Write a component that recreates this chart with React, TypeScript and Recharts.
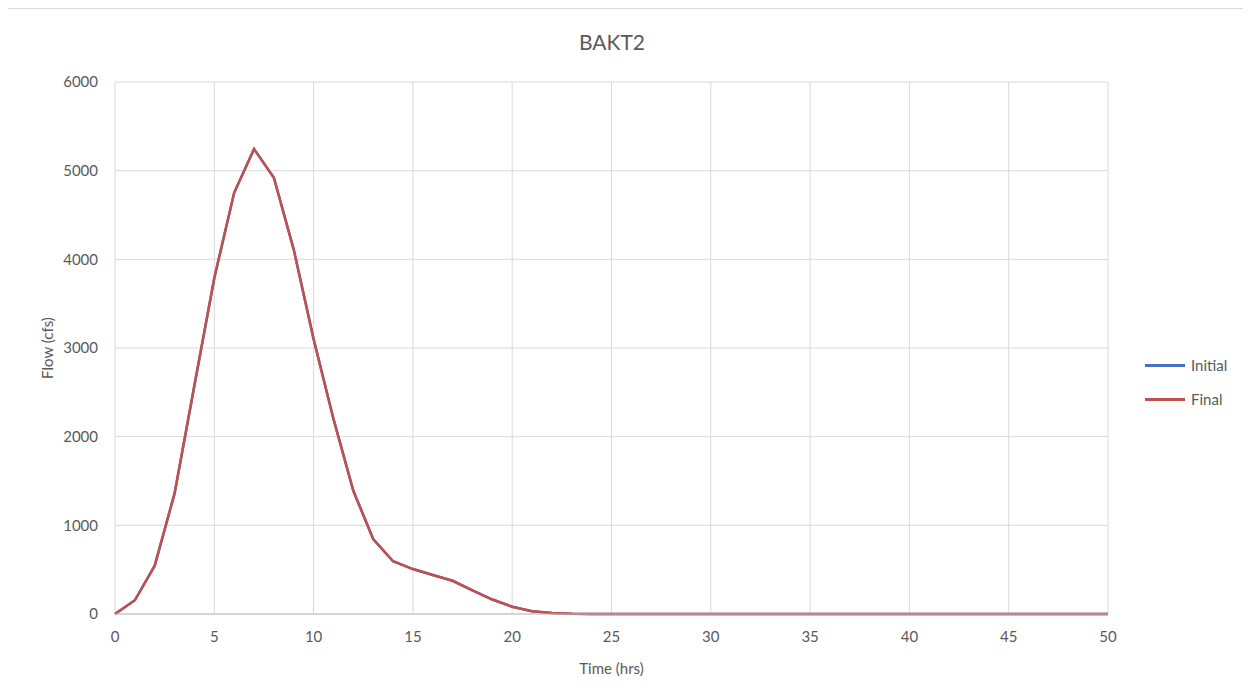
import { LineChart, Line, XAxis, YAxis, CartesianGrid, Legend } from "recharts";

const hours = [
  0, 1, 2, 3, 4, 5, 6, 7, 8, 9, 10, 11, 12, 13, 14, 15, 16, 17, 18, 19, 20, 21, 22, 23, 24, 25,
  26, 27, 28, 29, 30, 31, 32, 33, 34, 35, 36, 37, 38, 39, 40, 41, 42, 43, 44, 45, 46, 47, 48, 49, 50,
];

const finalFlow = [
  0, 155, 545, 1360, 2580, 3790, 4750, 5245, 4920, 4110, 3100, 2200, 1390, 845, 595, 507, 440, 375,
  267, 163, 82, 30, 12, 3, 0, 0, 0, 0, 0, 0, 0, 0, 0, 0, 0, 0, 0, 0, 0, 0, 0, 0, 0, 0, 0, 0, 0, 0, 0,
  0, 0,
];

// the initial run sits right under the final one
const initialFlow = [
  0, 155, 545, 1360, 2580, 3790, 4750, 5245, 4920, 4110, 3100, 2200, 1390, 845, 595, 507, 440, 375,
  267, 163, 82, 30, 12, 3, 0, 0, 0, 0, 0, 0, 0, 0, 0, 0, 0, 0, 0, 0, 0, 0, 0, 0, 0, 0, 0, 0, 0, 0, 0,
  0, 0,
];

const seriesNames = ["Initial", "Final"];
const xTicks = [0, 5, 10, 15, 20, 25, 30, 35, 40, 45, 50];
const yTicks = [0, 1000, 2000, 3000, 4000, 5000, 6000];

const data = hours.map((h, i) => ({
  hour: h,
  initial: initialFlow[i],
  final: finalFlow[i],
}));

const FONT = "Lato, 'Open Sans', sans-serif";
const TEXT = "#595959";

const renderLegend = ({ payload }: any) => {
  const items = [...(payload || [])].sort(
    (a: any, b: any) => seriesNames.indexOf(a.value) - seriesNames.indexOf(b.value)
  );
  return (
    <div style={{ fontFamily: FONT, fontSize: 15, color: TEXT }}>
      {items.map((item: any) => (
        <div
          key={item.value}
          style={{ display: "flex", alignItems: "center", height: 34 }}
        >
          <span
            style={{
              display: "inline-block",
              width: 40,
              height: 3,
              background: item.color,
              marginRight: 6,
            }}
          />
          <span>{item.value}</span>
        </div>
      ))}
    </div>
  );
};

export default function App() {
  return (
    <div
      style={{
        position: "relative",
        marginLeft: -5,
        width: 1247,
        height: 689,
        borderTop: "1px solid #d9d9d9",
        borderLeft: "1px solid #d9d9d9",
        background: "#fff",
      }}
    >
      <div
        style={{
          position: "absolute",
          left: 0,
          width: 1216,
          top: 20,
          textAlign: "center",
          fontFamily: FONT,
          fontSize: 21,
          color: TEXT,
        }}
      >
        BAKT2
      </div>
      <LineChart
        width={1247}
        height={689}
        data={data}
        margin={{ top: 73, right: 143, left: 51, bottom: 24 }}
      >
        <CartesianGrid stroke="#d9d9d9" strokeWidth={1} />
        <XAxis
          dataKey="hour"
          type="number"
          domain={[0, 50]}
          ticks={xTicks}
          interval={0}
          height={60}
          tickLine={false}
          tickMargin={11}
          axisLine={{ stroke: "#bfbfbf" }}
          tick={{ fill: TEXT, fontSize: 15, fontFamily: FONT }}
          label={{
            value: "Time (hrs)",
            position: "insideBottom",
            offset: 0,
            fill: TEXT,
            fontSize: 15,
            fontFamily: FONT,
          }}
        />
        <YAxis
          type="number"
          domain={[0, 6000]}
          ticks={yTicks}
          interval={0}
          width={60}
          tickLine={false}
          tickMargin={11}
          axisLine={false}
          tick={{ fill: TEXT, fontSize: 15, fontFamily: FONT }}
          label={{
            value: "Flow (cfs)",
            angle: -90,
            position: "insideLeft",
            dx: -12,
            fill: TEXT,
            fontSize: 15,
            fontFamily: FONT,
            style: { textAnchor: "middle" },
          }}
        />
        <Legend
          layout="vertical"
          align="center"
          verticalAlign="middle"
          content={renderLegend}
          wrapperStyle={{ left: 1141, top: 339, width: 100 }}
        />
        <Line
          name="Initial"
          dataKey="initial"
          stroke="#4472c4"
          strokeWidth={2.5}
          dot={false}
          isAnimationActive={false}
        />
        <Line
          name="Final"
          dataKey="final"
          stroke="#c0504d"
          strokeWidth={2.5}
          dot={false}
          isAnimationActive={false}
        />
      </LineChart>
    </div>
  );
}
